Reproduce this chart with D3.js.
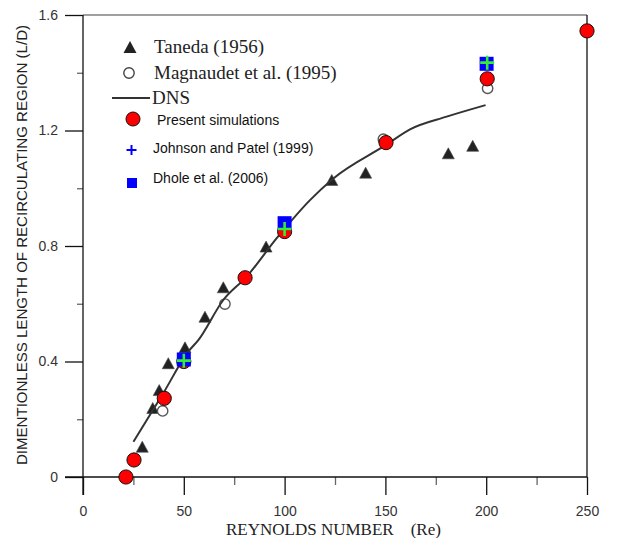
<!DOCTYPE html>
<html>
<head>
<meta charset="utf-8">
<script src="https://d3js.org/d3.v7.min.js"></script>
<style>
  body { margin: 0; background: #fff; }
  svg { display: block; }
  .tick text { font-family: "Liberation Sans", Arial, sans-serif; font-size: 14px; fill: #333; }
  .serif { font-family: "Liberation Serif", "Times New Roman", serif; }
  .sans { font-family: "Liberation Sans", Arial, sans-serif; }
</style>
</head>
<body>
<svg id="chart" width="617" height="538"></svg>
<script>
// Taneda (1956) experiments
const tanedaRe = [29.4, 34.6, 37.8, 42.3, 50.6, 60.5, 69.6, 90.8, 123.4, 140.2, 181.2, 193.3];
const tanedaL  = [0.105, 0.239, 0.301, 0.394, 0.449, 0.555, 0.657, 0.798, 1.029, 1.054, 1.121, 1.147];
// Magnaudet et al. (1995)
const magRe = [39.5, 70.4, 149, 200.7];
const magL  = [0.229, 0.599, 1.17, 1.346];
// DNS curve
const dnsRe = [25, 39.8, 52.2, 57.2, 69.6, 81.2, 96.1, 112.6, 124.2, 150.3, 162.2, 180.4, 199.7];
const dnsL  = [0.122, 0.290, 0.434, 0.474, 0.613, 0.694, 0.827, 0.959, 1.034, 1.150, 1.204, 1.248, 1.288];
// present simulations
const presRe = [21.3, 25.3, 40.3, 50, 80.4, 100, 150.3, 200.5, 250];
const presL  = [0, 0.059, 0.2725, 0.40, 0.69, 0.85, 1.158, 1.379, 1.545];
// Johnson and Patel (1999)
const jpRe = [50, 100, 200.5];
const jpL  = [0.403, 0.859, 1.435];
// Dhole et al. (2006)
const dhRe = [50, 100, 200.2];
const dhL  = [0.407, 0.879, 1.431];

const xMajor = [0, 50, 100, 150, 200, 250];
const xMinor = [25, 75, 125, 175, 225];
const yMajor = [0, 0.4, 0.8, 1.2, 1.6];
const yMinor = [0.2, 0.6, 1.0, 1.4];

const svg = d3.select("#chart");
const pLeft = 83, pRight = 587, pTop = 15, pBottom = 477;

const x = d3.scaleLinear().domain([0, 250]).range([pLeft, pRight]);
const y = d3.scaleLinear().domain([0, 1.6]).range([pBottom, pTop]);

const zip = (a, b) => a.map((v, i) => [v, b[i]]);

// frame: top grey, right black
svg.append("line").attr("x1", x(0)).attr("x2", x(250)).attr("y1", y(1.6)).attr("y2", y(1.6))
  .attr("stroke", "#808080").attr("stroke-width", 1.5);
svg.append("line").attr("x1", x(250)).attr("x2", x(250)).attr("y1", y(1.6)).attr("y2", y(0))
  .attr("stroke", "#111").attr("stroke-width", 1.3);

// axes
const gx = svg.append("g").attr("transform", `translate(0,${pBottom})`)
  .call(d3.axisBottom(x).tickValues(xMajor).tickSize(18).tickPadding(11).tickFormat(d3.format("d")));
const gxm = svg.append("g").attr("transform", `translate(0,${pBottom})`)
  .call(d3.axisBottom(x).tickValues(xMinor).tickSize(8).tickFormat(""));
const gy = svg.append("g").attr("transform", `translate(${pLeft},0)`)
  .call(d3.axisLeft(y).tickValues(yMajor).tickSize(18).tickPadding(7).tickFormat(d => d === 0 ? "0" : d3.format(".1f")(d)));
const gym = svg.append("g").attr("transform", `translate(${pLeft},0)`)
  .call(d3.axisLeft(y).tickValues(yMinor).tickSize(6).tickFormat(""));
[gx, gxm, gy, gym].forEach(g => {
  g.select(".domain").remove();
  g.selectAll(".tick line").attr("stroke", "#111").attr("stroke-width", 1.3);
});
// minor ticks grey
gxm.selectAll(".tick line").attr("stroke", "#666");
gym.selectAll(".tick line").attr("stroke", "#666");
svg.append("line").attr("x1", pLeft - 18).attr("x2", pRight).attr("y1", pBottom).attr("y2", pBottom)
  .attr("stroke", "#111").attr("stroke-width", 1.3);
svg.append("line").attr("x1", pLeft).attr("x2", pLeft).attr("y1", pTop).attr("y2", pBottom + 18)
  .attr("stroke", "#111").attr("stroke-width", 1.3);

// axis titles
svg.append("text").attr("class", "serif")
  .attr("x", 226).attr("y", 535)
  .attr("font-size", 17).attr("fill", "#222")
  .style("white-space", "pre")
  .text("REYNOLDS NUMBER    (Re)");
svg.append("text").attr("class", "sans")
  .attr("transform", "translate(27,245) rotate(-90)")
  .attr("text-anchor", "middle")
  .attr("font-size", 13.8).attr("fill", "#222")
  .attr("textLength", 440).attr("lengthAdjust", "spacingAndGlyphs")
  .text("DIMENTIONLESS LENGTH OF RECIRCULATING REGION (L/D)");

// marker helpers
const triPath = (cx, cy, w = 12, h = 11) =>
  `M${cx - w / 2},${cy + h / 2}L${cx + w / 2},${cy + h / 2}L${cx},${cy - h / 2}Z`;
const plusPath = (cx, cy, s) =>
  `M${cx - s},${cy}L${cx + s},${cy}M${cx},${cy - s}L${cx},${cy + s}`;

// Taneda triangles
svg.append("g").selectAll("path").data(zip(tanedaRe, tanedaL)).join("path")
  .attr("d", d => triPath(x(d[0]), y(d[1])))
  .attr("fill", "#222").attr("stroke", "#444").attr("stroke-width", 0.6);

// Magnaudet open circles
svg.append("g").selectAll("circle").data(zip(magRe, magL)).join("circle")
  .attr("cx", d => x(d[0])).attr("cy", d => y(d[1])).attr("r", 5.2)
  .attr("fill", "#fff").attr("stroke", "#555").attr("stroke-width", 1.4);

// DNS curve
svg.append("path").datum(zip(dnsRe, dnsL))
  .attr("d", d3.line().x(d => x(d[0])).y(d => y(d[1])).curve(d3.curveMonotoneX))
  .attr("fill", "none").attr("stroke", "#333").attr("stroke-width", 2);

// Present simulations
svg.append("g").selectAll("circle").data(zip(presRe, presL)).join("circle")
  .attr("cx", d => x(d[0])).attr("cy", d => y(d[1])).attr("r", 7.1)
  .attr("fill", "#ff0000").attr("stroke", "#111").attr("stroke-width", 1);

// Dhole squares
svg.append("g").selectAll("rect").data(zip(dhRe, dhL)).join("rect")
  .attr("x", d => x(d[0]) - 7).attr("y", d => y(d[1]) - 7)
  .attr("width", 14).attr("height", 14).attr("fill", "#0000ff");

// Johnson and Patel plus
svg.append("g").selectAll("path").data(zip(jpRe, jpL)).join("path")
  .attr("d", d => plusPath(x(d[0]), y(d[1]), 7))
  .attr("stroke", "#33ee33").attr("stroke-width", 2.6).attr("fill", "none");

// legend
const lg = svg.append("g");
lg.append("path").attr("d", triPath(130, 47, 13, 12)).attr("fill", "#222");
lg.append("text").attr("class", "serif").attr("x", 154).attr("y", 53).attr("font-size", 19).attr("fill", "#222").text("Taneda (1956)");
lg.append("circle").attr("cx", 129).attr("cy", 73).attr("r", 5.2).attr("fill", "#fff").attr("stroke", "#444").attr("stroke-width", 1.4);
lg.append("text").attr("class", "serif").attr("x", 154).attr("y", 79).attr("font-size", 19).attr("fill", "#222").text("Magnaudet et al. (1995)");
lg.append("line").attr("x1", 112).attr("x2", 150).attr("y1", 98).attr("y2", 98).attr("stroke", "#333").attr("stroke-width", 1.8);
lg.append("text").attr("class", "serif").attr("x", 152).attr("y", 104).attr("font-size", 19).attr("fill", "#222").text("DNS");
lg.append("circle").attr("cx", 133).attr("cy", 119).attr("r", 7).attr("fill", "#ff0000").attr("stroke", "#111").attr("stroke-width", 1);
lg.append("text").attr("class", "sans").attr("x", 157).attr("y", 124.5).attr("font-size", 14).attr("fill", "#111").text("Present simulations");
lg.append("path").attr("d", plusPath(131.5, 150, 5)).attr("stroke", "#0000ff").attr("stroke-width", 2).attr("fill", "none");
lg.append("text").attr("class", "sans").attr("x", 153).attr("y", 153).attr("font-size", 14).attr("fill", "#111").text("Johnson and Patel (1999)");
lg.append("rect").attr("x", 127).attr("y", 178).attr("width", 10).attr("height", 10).attr("fill", "#0000ff");
lg.append("text").attr("class", "sans").attr("x", 153).attr("y", 183).attr("font-size", 14).attr("fill", "#111").text("Dhole et al. (2006)");
</script>
</body>
</html>
